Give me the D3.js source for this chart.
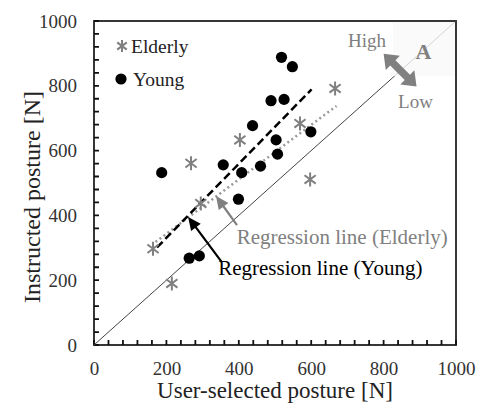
<!DOCTYPE html>
<html>
<head>
<meta charset="utf-8">
<script src="https://cdn.jsdelivr.net/npm/d3@7"></script>
<style>
    body { margin: 0; background: #fff; }
    text { font-family: "Liberation Serif", "Times New Roman", serif; }
</style>
</head>
<body>
<div id="chart"></div>
<script>
// data
const elderlyX = [163, 215, 268, 295, 403, 569, 597, 666];
const elderlyY = [297, 190, 561, 437, 633, 684, 511, 792];
const youngX = [187, 263, 291, 357, 399, 408, 438, 460, 489, 503, 507, 518, 525, 548, 599];
const youngY = [532, 268, 275, 556, 450, 532, 677, 552, 754, 633, 589, 888, 758, 859, 658];

// regression lines (end points)
const youngFitX = [174, 601];
const youngFitY = [301, 789];
const elderlyFitX = [170, 670];
const elderlyFitY = [318, 738];

const majorTicks = [0, 200, 400, 600, 800, 1000];
const minorTicks = d3.range(0, 1001, 40);

let margin = {top: 21, right: 27, bottom: 62, left: 94};
let width = 483, height = 407;

let svg = d3.select("#chart").append("svg")
    .attr("width", width)
    .attr("height", height);

let x = d3.scaleLinear().domain([0, 1000]).range([margin.left, width - margin.right]);
let y = d3.scaleLinear().domain([0, 1000]).range([height - margin.bottom, margin.top]);

const grey = "#808080";

// plot frame
svg.append("rect")
    .attr("x", x(0)).attr("y", y(1000))
    .attr("width", x(1000) - x(0)).attr("height", y(0) - y(1000))
    .attr("fill", "none").attr("stroke", "#222").attr("stroke-width", 1.8);

// minor ticks (inside the frame)
let tickPath = "";
minorTicks.forEach(d => {
    tickPath += `M${x(d)},${y(0)}V${y(0) - 5}`;
    tickPath += `M${x(0)},${y(d)}H${x(0) + 5}`;
});
svg.append("path")
    .attr("d", tickPath)
    .attr("stroke", "#111")
    .attr("stroke-width", 1.8)
    .attr("fill", "none");

// tick labels
svg.append("g")
    .attr("transform", "translate(0," + y(0) + ")")
    .call(d3.axisBottom(x).tickValues(majorTicks).tickSize(0).tickPadding(16.5).tickFormat(d3.format("d")))
    .call(g => g.select(".domain").remove())
    .call(g => g.selectAll("text").attr("font-size", 19).attr("fill", "#333")
        .style("font-family", "'Liberation Serif', serif"));
svg.append("g")
    .attr("transform", "translate(" + x(0) + ",0)")
    .call(d3.axisLeft(y).tickValues(majorTicks).tickSize(0).tickPadding(17).tickFormat(d3.format("d")))
    .call(g => g.select(".domain").remove())
    .call(g => g.selectAll("text").attr("font-size", 19).attr("fill", "#333")
        .style("font-family", "'Liberation Serif', serif"));

// y = x line
svg.append("line")
    .attr("x1", x(0)).attr("y1", y(0))
    .attr("x2", x(1000)).attr("y2", y(1000))
    .attr("stroke", "#444").attr("stroke-width", 1);

// light box behind "A"
svg.append("rect")
    .attr("x", x(826)).attr("y", y(1000) + 1)
    .attr("width", x(1000) - x(826) - 1).attr("height", y(833) - y(1000))
    .attr("fill", "#f9f9f9").attr("opacity", 0.8);

// regression lines
let fit = d3.line().x(d => x(d[0])).y(d => y(d[1]));
svg.append("path")
    .attr("d", fit(d3.zip(elderlyFitX, elderlyFitY)))
    .attr("stroke", "#999").attr("stroke-width", 2.5)
    .attr("stroke-dasharray", "2,3").attr("fill", "none");
svg.append("path")
    .attr("d", fit(d3.zip(youngFitX, youngFitY)))
    .attr("stroke", "#000").attr("stroke-width", 2.5)
    .attr("stroke-dasharray", "8,4").attr("fill", "none");

// asterisk marker
function star(g, cx, cy, r) {
    let a = r * 0.8;
    g.append("path")
        .attr("d", `M${cx},${cy - r}L${cx},${cy + r}M${cx - a},${cy - a * 0.75}L${cx + a},${cy + a * 0.75}M${cx - a},${cy + a * 0.75}L${cx + a},${cy - a * 0.75}`)
        .attr("stroke", grey).attr("stroke-width", 2).attr("fill", "none");
}

let elderly = svg.append("g");
d3.zip(elderlyX, elderlyY).forEach(d => star(elderly, x(d[0]), y(d[1]), 7));

svg.append("g").selectAll("circle")
    .data(d3.zip(youngX, youngY))
    .enter()
    .append("circle")
    .attr("cx", d => x(d[0]))
    .attr("cy", d => y(d[1]))
    .attr("r", 5.6)
    .attr("fill", "#000");

// legend
star(svg, 122, 46, 6);
svg.append("text").attr("x", 131).attr("y", 53).attr("font-size", 19.5).attr("fill", "#222").text("Elderly");
svg.append("circle").attr("cx", 121).attr("cy", 79).attr("r", 5.6).attr("fill", "#000");
svg.append("text").attr("x", 133).attr("y", 86).attr("font-size", 19.5).attr("fill", "#222").text("Young");

// arrow with filled head(s), drawn as a polygon in pixel space
function arrow(x1, y1, x2, y2, w, hl, hw, color, both) {
    let dx = x2 - x1, dy = y2 - y1, len = Math.hypot(dx, dy);
    let ux = dx / len, uy = dy / len, nx = -uy, ny = ux;
    let p = (s, t) => [x1 + ux * s + nx * t, y1 + uy * s + ny * t];
    let s1 = len - hl;
    let pts = [];
    if (both) {
        pts.push(p(0, 0), p(hl, hw), p(hl, w / 2));
    } else {
        pts.push(p(0, w / 2));
    }
    pts.push(p(s1, w / 2), p(s1, hw), p(len, 0), p(s1, -hw), p(s1, -w / 2));
    if (both) {
        pts.push(p(hl, -w / 2), p(hl, -hw));
    } else {
        pts.push(p(0, -w / 2));
    }
    svg.append("polygon")
        .attr("points", pts.map(d => d.join(",")).join(" "))
        .attr("fill", color);
}

// label arrows
arrow(x(395), y(370), x(337), y(460), 2.2, 13, 6, grey, false);
arrow(x(353), y(256), x(260), y(395), 2.2, 13, 6, "#000", false);

svg.append("text").attr("x", x(394)).attr("y", y(312))
    .attr("font-size", 21).attr("fill", grey).text("Regression line (Elderly)");
svg.append("text").attr("x", x(343)).attr("y", y(216))
    .attr("font-size", 21).attr("fill", "#000").text("Regression line (Young)");

// High / Low double arrow
arrow(x(800), y(899), x(891), y(798), 7.5, 13, 10, grey, true);
svg.append("text").attr("x", x(702)).attr("y", y(920)).attr("font-size", 19).attr("fill", grey).text("High");
svg.append("text").attr("x", x(840)).attr("y", y(731)).attr("font-size", 19).attr("fill", grey).text("Low");
svg.append("text").attr("x", x(888)).attr("y", y(883)).attr("font-size", 22)
    .attr("font-weight", "bold").attr("fill", grey).text("A");

// axis titles
svg.append("text")
    .attr("x", (x(0) + x(1000)) / 2).attr("y", 398)
    .attr("text-anchor", "middle").attr("font-size", 23).attr("fill", "#222")
    .text("User-selected posture [N]");
svg.append("text")
    .attr("transform", "translate(40,197) rotate(-90)")
    .attr("text-anchor", "middle").attr("font-size", 24).attr("fill", "#222")
    .text("Instructed posture [N]");
</script>
</body>
</html>
